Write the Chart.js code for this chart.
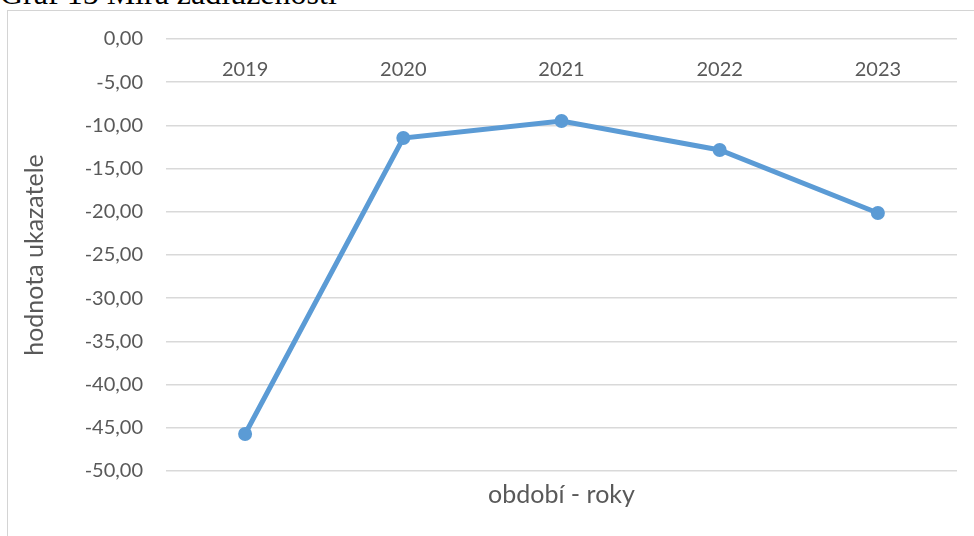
<!DOCTYPE html>
<html>
<head>
<meta charset="utf-8">
<script src="https://cdn.jsdelivr.net/npm/chart.js@4"></script>
<style>
  html, body { margin: 0; padding: 0; background: #fff; overflow: hidden; }
  body { width: 974px; height: 536px; position: relative; }
  #nadpis {
    position: absolute; left: 0; top: -22px;
    font-family: "Liberation Serif", "Times New Roman", serif;
    font-size: 32px; line-height: 30px; color: #000; white-space: nowrap;
  }
  #ramecek {
    position: absolute; left: 7px; top: 10px; width: 1000px; height: 600px;
    border: 1px solid #d4d4d4;
  }
  #graf { position: absolute; left: 0; top: 0; }
</style>
</head>
<body>
<div id="nadpis">Graf 15 Míra zadluženosti</div>
<div id="ramecek"></div>
<canvas id="graf" width="974" height="536"></canvas>
<script>
// Data z grafu
const roky = ['2019', '2020', '2021', '2022', '2023'];
const hodnoty = [-45.72, -11.46, -9.49, -12.85, -20.14];
const osaY = { min: -50, max: 0, krok: 5 };

const barvaCary = '#5b9bd5';
const barvaTextu = '#595959';
const barvaMrizky = '#d9d9d9';
const pismo = 'Lato, "Open Sans", sans-serif';

document.addEventListener('DOMContentLoaded', () => {
    const ctx = document.getElementById('graf').getContext('2d');
    new Chart(ctx, {
        type: 'line',
        data: {
            labels: roky,
            datasets: [{
                label: 'Míra zadluženosti',
                data: hodnoty,
                borderColor: barvaCary,
                backgroundColor: barvaCary,
                borderWidth: 5,
                pointRadius: 7,
                pointHoverRadius: 7,
                pointBorderWidth: 0,
                tension: 0,
                fill: false
            }]
        },
        options: {
            responsive: false,
            animation: false,
            layout: { padding: { left: 16, right: 17, top: 39, bottom: 25 } },
            plugins: { legend: { display: false }, tooltip: { enabled: false } },
            scales: {
                x: {
                    type: 'category',
                    position: { y: 0 },
                    offset: true,
                    grid: { display: false, drawTicks: false },
                    border: { display: false },
                    ticks: { color: barvaTextu, font: { family: pismo, size: 20 }, padding: 19, maxRotation: 0 }
                },
                x2: {
                    type: 'category',
                    labels: roky,
                    position: 'bottom',
                    offset: true,
                    grid: { display: false, drawTicks: false },
                    border: { display: false },
                    ticks: { display: false },
                    title: {
                        display: true,
                        text: 'období - roky',
                        color: barvaTextu,
                        font: { family: pismo, size: 25, weight: 'normal' },
                        padding: { top: 9, bottom: 1 }
                    },
                    afterFit: s => { s.height = 40; }
                },
                y: {
                    min: osaY.min,
                    max: osaY.max,
                    grid: { color: barvaMrizky, lineWidth: 1.5, drawTicks: false },
                    border: { display: false },
                    ticks: {
                        stepSize: osaY.krok,
                        color: barvaTextu,
                        font: { family: pismo, size: 20 },
                        padding: 23,
                        callback: v => v.toFixed(2).replace('.', ',')
                    },
                    title: {
                        display: true,
                        text: 'hodnota ukazatele',
                        color: barvaTextu,
                        font: { family: pismo, size: 25, weight: 'normal' },
                        padding: { top: 4, bottom: 0 }
                    },
                    afterFit: s => { s.width = 150; }
                }
            }
        }
    });
});
</script>
</body>
</html>
